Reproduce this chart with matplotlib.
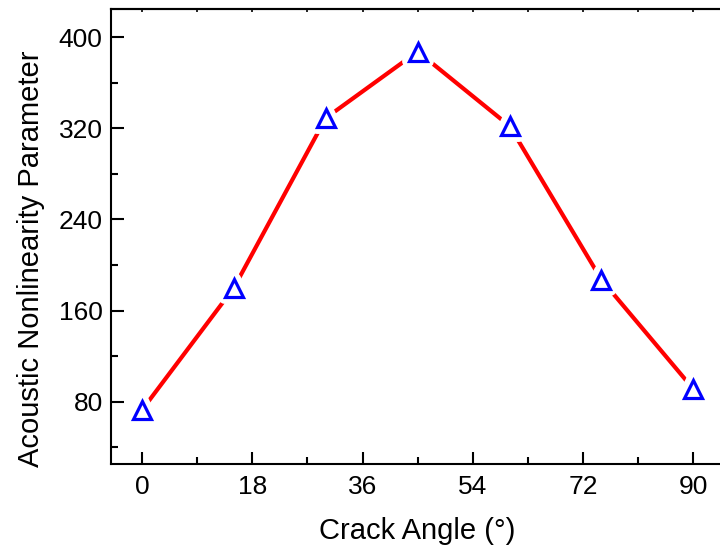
import numpy as np
import matplotlib
matplotlib.use('Agg')
import matplotlib.pyplot as plt
from matplotlib.markers import MarkerStyle
from matplotlib.ticker import MultipleLocator

# data
angle = [0, 15, 30, 45, 60, 75, 90]
beta = [72.7, 180.0, 328.9, 387.3, 321.9, 187.0, 91.1]

x_ticks = [0, 18, 36, 54, 72, 90]
y_ticks = [80, 160, 240, 320, 400]

plt.rcParams['font.family'] = ['Liberation Sans', 'DejaVu Sans']

fig = plt.figure(figsize=(7.2, 5.51), dpi=100)
ax = fig.add_axes([111 / 720, 87 / 551, 613 / 720, 455 / 551])

ax.plot(angle, beta, color='red', lw=3, solid_capstyle='round', zorder=2)
# white mask so the line stops short of each marker
ax.plot(angle, beta, ls='none', marker=MarkerStyle('^', joinstyle='round'),
        ms=13, mfc='white', mec='white', mew=10, zorder=3)
ax.plot(angle, beta, ls='none', marker='^', ms=13, mfc='none',
        mec='blue', mew=2.3, zorder=4)

ax.set_xlim(-5.06, 95)
ax.set_ylim(25.3, 424.6)
ax.set_xticks(x_ticks)
ax.set_yticks(y_ticks)
ax.xaxis.set_minor_locator(MultipleLocator(9))
ax.yaxis.set_minor_locator(MultipleLocator(40))

ax.tick_params(which='major', direction='in', length=9, width=1.5,
               labelsize=19, pad=8, top=False, right=False)
ax.tick_params(which='minor', direction='in', length=5, width=1.5,
               top=False, right=False)
ax.tick_params(axis='y', pad=6)

top = ax.secondary_xaxis('top')
top.set_xticks(x_ticks)
top.xaxis.set_minor_locator(MultipleLocator(9))
top.tick_params(which='both', direction='in', length=2, width=1.2,
                labeltop=False)
top.spines['top'].set_linewidth(1.5)

for s in ax.spines.values():
    s.set_linewidth(1.5)

ax.set_xlabel('Crack Angle (°)', fontsize=21, labelpad=13)
ax.set_ylabel('Acoustic Nonlinearity Parameter', fontsize=21)
ax.yaxis.set_label_coords(-0.108, 0.4516)

fig.savefig('out.png', dpi=100)
